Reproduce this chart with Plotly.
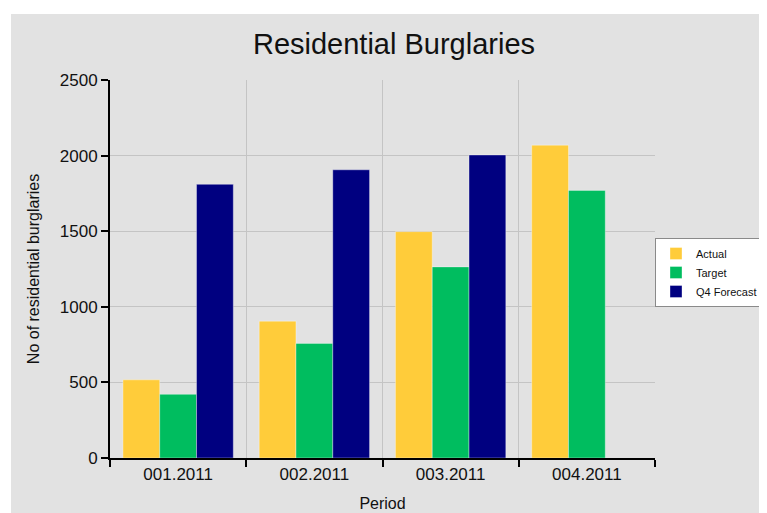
import plotly.graph_objects as go

periods = ["001.2011", "002.2011", "003.2011", "004.2011"]
actual = [517, 905, 1497, 2069]
target = [421, 758, 1264, 1770]
forecast = [1810, 1906, 2004, None]
series_names = ["Actual", "Target", "Q4 Forecast"]
series_colors = ["#FFCC3A", "#00BD5F", "#000080"]
y_ticks = [0, 500, 1000, 1500, 2000, 2500]

# page body has an 8px margin, so the figure is drawn 8px in from the window edge
O = 8
W, H = 767 - 2 * O, 513 - O
L, R, T, B = 110 - O, 767 - O - 655, 80 - O, 55
pw, ph = W - L - R, H - T - B

def px_x(x):
    return (x - O - L) / pw

def px_y(y):
    return (H - B - (y - O)) / ph

fig = go.Figure()
for name, vals, col in zip(series_names, [actual, target, forecast], series_colors):
    fig.add_trace(go.Bar(
        x=periods, y=vals, name=name,
        marker=dict(color=col, line=dict(color="rgba(255,255,255,0.35)", width=1)),
    ))

fig.add_shape(type="rect", xref="paper", yref="paper",
              x0=px_x(11), x1=px_x(775), y0=px_y(520), y1=px_y(14),
              fillcolor="#E2E2E2", line=dict(width=0), layer="below")

fig.update_layout(
    width=W, height=H,
    margin=dict(l=L, r=R, t=T, b=B, autoexpand=False),
    paper_bgcolor="white", plot_bgcolor="white",
    font=dict(family="Liberation Sans, Arial, sans-serif", color="#111111"),
    title=dict(text="Residential Burglaries", x=(394 - O) / W, xref="container",
               xanchor="center", y=1 - (44 - O) / H, yanchor="middle",
               font=dict(size=29, color="#111111")),
    barmode="group", bargap=0.19, bargroupgap=0,
    showlegend=True,
    legend=dict(x=px_x(655), y=px_y(238), xanchor="left", yanchor="top",
                bgcolor="white", bordercolor="#8a8a8a", borderwidth=1,
                font=dict(size=11, color="#111111"),
                tracegroupgap=0, itemwidth=30),
    xaxis=dict(
        tickson="boundaries", showgrid=True, gridcolor="#C4C4C4", gridwidth=1,
        showline=True, linecolor="black", linewidth=2,
        ticks="outside", ticklen=7, tickwidth=2, tickcolor="black",
        tickfont=dict(size=17), range=[-0.5, 3.5],
        title=dict(text="Period", font=dict(size=16), standoff=14),
    ),
    yaxis=dict(
        range=[0, 2500], tickvals=y_ticks,
        showgrid=True, gridcolor="#C4C4C4", gridwidth=1, zeroline=False,
        showline=True, linecolor="black", linewidth=2,
        ticks="outside", ticklen=7, tickwidth=2, tickcolor="black",
        tickfont=dict(size=17),
        title=dict(text="No of residential burglaries", font=dict(size=16), standoff=16),
    ),
)

fig.write_html("out.html")
